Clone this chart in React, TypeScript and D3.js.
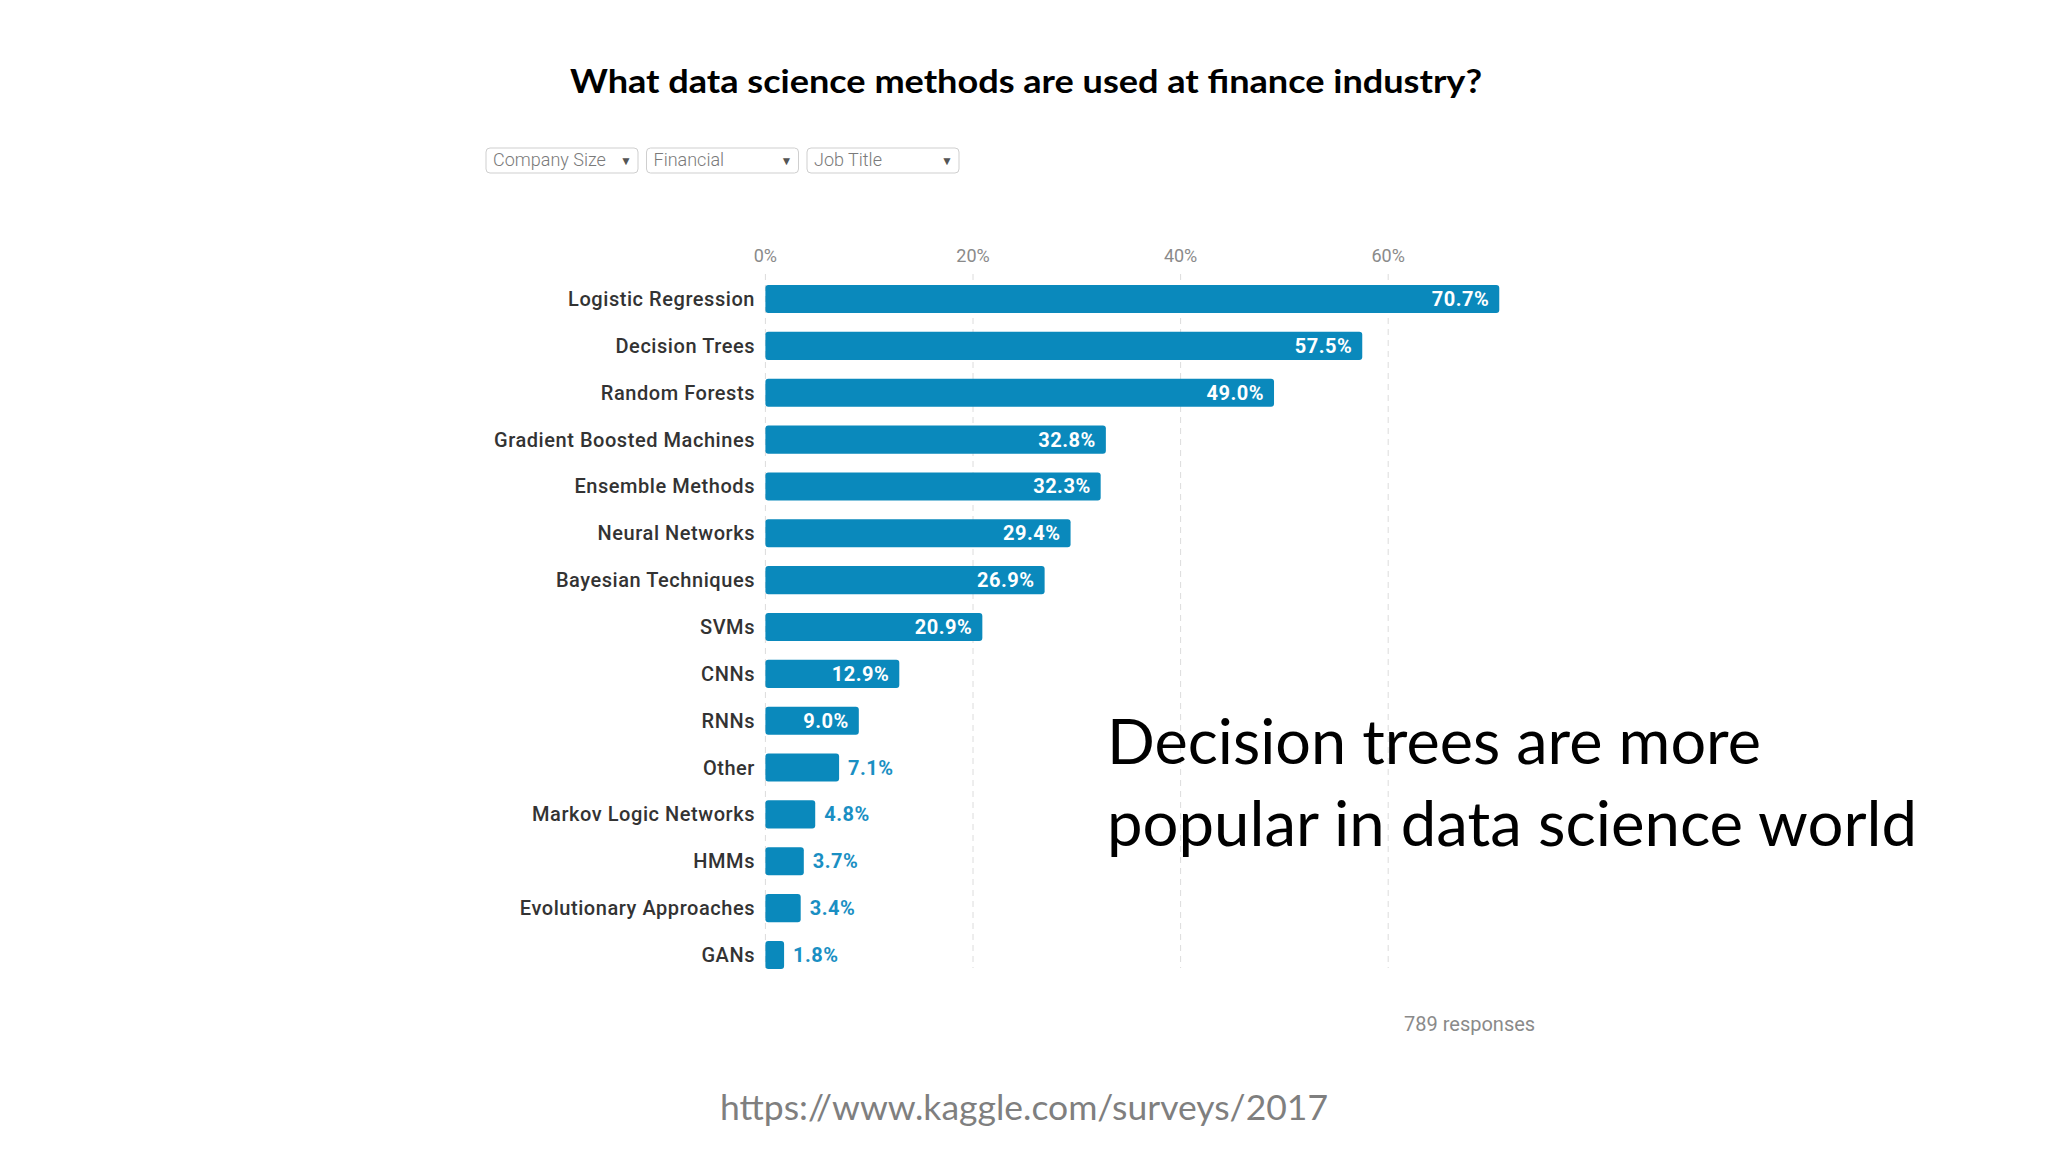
import React, { useEffect, useRef } from "react";
import * as d3 from "d3";

// chart data
const methods = [
  "Logistic Regression",
  "Decision Trees",
  "Random Forests",
  "Gradient Boosted Machines",
  "Ensemble Methods",
  "Neural Networks",
  "Bayesian Techniques",
  "SVMs",
  "CNNs",
  "RNNs",
  "Other",
  "Markov Logic Networks",
  "HMMs",
  "Evolutionary Approaches",
  "GANs",
];
const shares = [70.7, 57.5, 49.0, 32.8, 32.3, 29.4, 26.9, 20.9, 12.9, 9.0, 7.1, 4.8, 3.7, 3.4, 1.8];
const xTicks = [0, 20, 40, 60];
const filters = ["Company Size", "Financial", "Job Title"];
const responses = "789 responses";

const W = 2048;
const H = 1152;
const BAR = "#0a89bc";
const OUT_LABEL = "#1a8fc3";
const UI_FONT = "Roboto, 'Noto Sans', sans-serif";
const SLIDE_FONT = "Lato, 'Open Sans', sans-serif";

const Chart = () => {
  const ref = useRef<SVGSVGElement>(null);

  useEffect(() => {
    const svg = d3.select(ref.current);
    svg.selectAll("*").remove();

    // slide title
    svg.append("text")
      .attr("x", 1026).attr("y", 93)
      .attr("text-anchor", "middle")
      .attr("font-family", SLIDE_FONT).attr("font-weight", 700)
      .attr("font-size", 33).attr("fill", "#000")
      .attr("textLength", 912).attr("lengthAdjust", "spacingAndGlyphs")
      .text("What data science methods are used at finance industry?");

    // fake dropdown filters
    const dd = svg.append("g").attr("font-family", UI_FONT);
    filters.forEach((f, i) => {
      const x0 = 486 + i * 160.5;
      const g = dd.append("g").attr("transform", `translate(${x0},148)`);
      g.append("rect").attr("width", 152).attr("height", 25).attr("rx", 4)
        .attr("fill", "#fff").attr("stroke", "#cfcfcf");
      g.append("text").attr("x", 7).attr("y", 18).attr("font-size", 18)
        .attr("fill", "#7a7a7a").attr("font-weight", 300).text(f);
      g.append("text").attr("x", 140).attr("y", 17).attr("font-size", 12)
        .attr("text-anchor", "middle").attr("fill", "#555").text("\u25BC");
    });

    // scales
    const x = d3.scaleLinear().domain([0, 60]).range([765.4, 1388.2]);
    const y = d3.scaleBand().domain(methods).range([275.6, 978.4])
      .paddingInner(0.4).paddingOuter(0.2);

    const chart = svg.append("g").attr("font-family", UI_FONT);

    // dashed gridlines + tick labels
    chart.selectAll(".grid").data(xTicks).join("line")
      .attr("class", "grid")
      .attr("x1", d => x(d)).attr("x2", d => x(d))
      .attr("y1", 274).attr("y2", 968)
      .attr("stroke", "#dcdcdc").attr("stroke-dasharray", "6,5");

    chart.selectAll(".tick-label").data(xTicks).join("text")
      .attr("class", "tick-label")
      .attr("x", d => x(d)).attr("y", 262)
      .attr("text-anchor", "middle").attr("font-size", 18)
      .attr("fill", "#8a8a8a")
      .text(d => `${d}%`);

    // category labels
    chart.selectAll(".cat").data(methods).join("text")
      .attr("class", "cat")
      .attr("x", 755)
      .attr("y", d => (y(d) as number) + y.bandwidth() / 2)
      .attr("dy", "0.35em")
      .attr("text-anchor", "end").attr("font-size", 20)
      .attr("letter-spacing", 0.55)
      .attr("font-weight", 500).attr("fill", "#333")
      .text(d => d);

    const rows = methods.map((m, i) => ({ m, v: shares[i] }));

    chart.selectAll(".bar").data(rows).join("rect")
      .attr("class", "bar")
      .attr("x", x(0))
      .attr("y", d => y(d.m) as number)
      .attr("width", d => x(d.v) - x(0))
      .attr("height", y.bandwidth())
      .attr("rx", 3)
      .attr("fill", BAR);

    // value labels: inside when the bar is wide enough, outside otherwise
    chart.selectAll(".val").data(rows).join("text")
      .attr("class", "val")
      .attr("x", d => (d.v >= 8 ? x(d.v) - 10 : x(d.v) + 9))
      .attr("y", d => (y(d.m) as number) + y.bandwidth() / 2)
      .attr("dy", "0.35em")
      .attr("text-anchor", d => (d.v >= 8 ? "end" : "start"))
      .attr("font-size", 20).attr("font-weight", 700)
      .attr("letter-spacing", 0.5)
      .attr("fill", d => (d.v >= 8 ? "#fff" : OUT_LABEL))
      .text(d => `${d.v.toFixed(1)}%`);

    chart.append("text")
      .attr("x", 1404).attr("y", 1031)
      .attr("font-size", 20).attr("fill", "#8a8a8a")
      .text(responses);

    // slide annotation
    const note = svg.append("g").attr("font-family", SLIDE_FONT).attr("fill", "#000");
    note.append("text").attr("x", 1107).attr("y", 764).attr("font-size", 62)
      .attr("textLength", 654).attr("lengthAdjust", "spacingAndGlyphs")
      .text("Decision trees are more");
    note.append("text").attr("x", 1107).attr("y", 846).attr("font-size", 62)
      .attr("textLength", 810).attr("lengthAdjust", "spacingAndGlyphs")
      .text("popular in data science world");

    svg.append("text")
      .attr("x", 1024).attr("y", 1120)
      .attr("text-anchor", "middle")
      .attr("font-family", SLIDE_FONT).attr("font-size", 35)
      .attr("fill", "#7f7f7f")
      .attr("textLength", 608).attr("lengthAdjust", "spacingAndGlyphs")
      .text("https://www.kaggle.com/surveys/2017");
  }, []);

  return (
    <svg ref={ref} width={W} height={H}
      style={{ position: "absolute", left: 0, top: 0, background: "#fff" }} />
  );
};

export default function App() {
  return <Chart />;
}
